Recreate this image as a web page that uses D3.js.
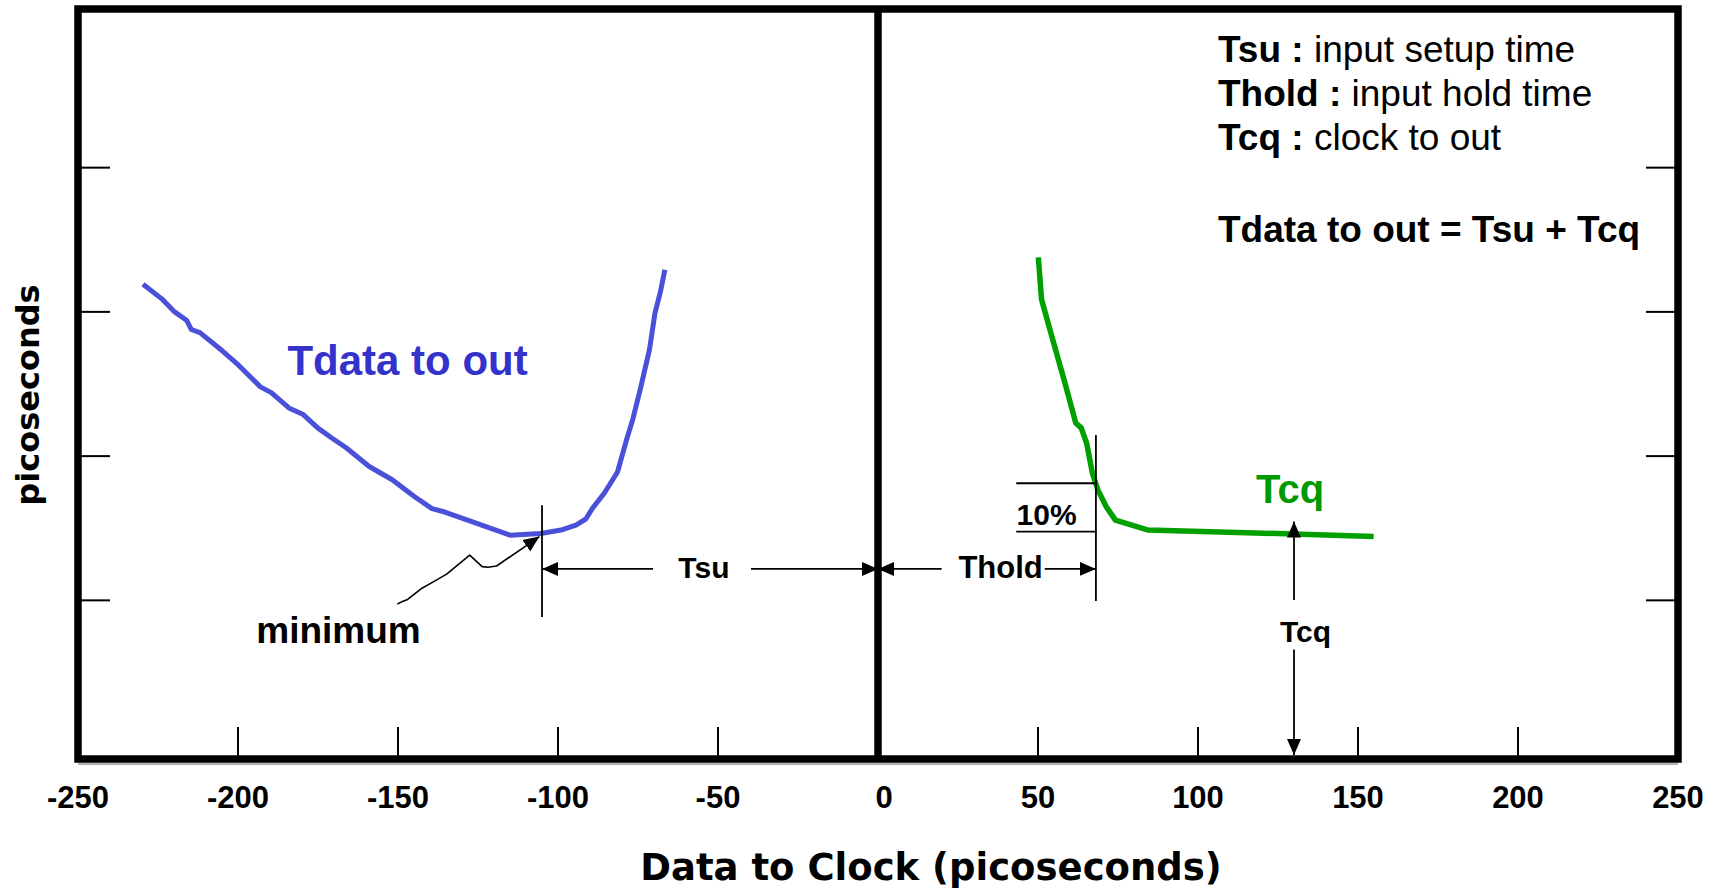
<!DOCTYPE html>
<html>
<head>
<meta charset="utf-8">
<script src="https://cdn.jsdelivr.net/npm/d3@7"></script>
<style>
  html, body { margin: 0; padding: 0; background: #ffffff; }
  svg { display: block; }
  text { font-family: "Liberation Sans", Arial, Helvetica, sans-serif; }
</style>
</head>
<body>
<svg id="chart" width="1726" height="889"></svg>
<script>
// ---------------- data ----------------
const xTicks = [-200, -150, -100, -50, 50, 100, 150, 200];
const xTickLabels = [-250, -200, -150, -100, -50, 0, 50, 100, 150, 200, 250];
const yTicks = [55, 105, 155, 205];

// Tdata to out curve (picoseconds, arbitrary units on y)
const tdataX = [-229.7, -223.9, -219.8, -216.0, -214.6, -211.9, -205.0, -199.9, -193.0, -189.6,
                -184.1, -179.6, -175.1, -170.7, -166.2, -159.0, -151.8, -144.9, -139.4, -135.6,
                -126.7, -115.0, -105.4, -98.6, -94.4, -91.3, -89.3, -85.5, -81.4, -78.6,
                -76.6, -74.2, -71.4, -69.7, -68.0, -66.6];
const tdataY = [164.6, 159.6, 155.0, 152.0, 148.9, 147.8, 141.6, 136.6, 129.0, 127.0,
                121.7, 119.4, 114.8, 111.3, 107.9, 101.4, 96.8, 91.0, 86.8, 85.7,
                82.2, 77.6, 78.2, 79.5, 81.1, 83.2, 86.8, 92.2, 99.5, 110.6,
                117.9, 128.6, 142.0, 154.6, 161.9, 169.6];

// Tcq curve
const tcqX = [50.1, 51.1, 54.0, 58.4, 61.8, 63.5, 65.2, 67.0, 68.7, 71.3, 74.2, 84.2, 104.1, 129.8, 154.9];
const tcqY = [173.9, 159.4, 147.8, 130.4, 116.5, 114.8, 109.5, 99.1, 93.3, 87.5, 82.8, 79.4, 78.8, 78.0, 77.1];

// annotation values
const minimumX = -105;             // Tsu reference (minimum point)
const minimumLineY = [49.2, 88];
const tholdX = 68.1;               // hold-time reference
const tholdLineY = [54.8, 112.3];
const arrowRowY = 65.9;            // level of the Tsu / Thold arrows
const tenPctY = [78.8, 95.6];
const tenPctX = [43.2, 68.3];
const tcqArrowX = 130;
const tcqUpY = [55.1, 82.3];
const tcqDownY = [38, 1.4];
const squiggleX = [-150.25, -148.8, -147.0, -142.5, -139.8, -134.8, -127.6, -123.7, -121.9, -119.2, -105.8];
const squiggleY = [53.7, 54.5, 55.3, 59.2, 60.9, 64.1, 70.7, 66.7, 66.5, 66.9, 77.1];

const legendBold = ["Tsu :", "Thold :", "Tcq :"];
const legendText = [" input setup time", " input hold time", " clock to out"];
const formulaText = "Tdata to out = Tsu + Tcq";

// ---------------- layout ----------------
const svg = d3.select("#chart");
const L = 78, R = 1678, T = 9, B = 759;
const x = d3.scaleLinear().domain([-250, 250]).range([L, R]);
const y = d3.scaleLinear().domain([0, 260]).range([B, T]);

const blue = "#4a50d8", blueText = "#3333cc";
const green = "#00a000", greenText = "#009a00";

const defs = svg.append("defs");
function marker(id) {
  defs.append("marker")
    .attr("id", id)
    .attr("markerUnits", "userSpaceOnUse")
    .attr("viewBox", "0 -8 16 16")
    .attr("refX", 16).attr("refY", 0)
    .attr("markerWidth", 16).attr("markerHeight", 16)
    .attr("orient", "auto")
    .append("path").attr("d", "M0,-7L16,0L0,7Z").attr("fill", "#000");
}
marker("arr");

// ticks along bottom
const tickLen = 32;
svg.append("g").selectAll("line").data(xTicks).join("line")
  .attr("x1", d => x(d)).attr("x2", d => x(d))
  .attr("y1", B).attr("y2", B - tickLen)
  .attr("stroke", "#000").attr("stroke-width", 2);

// ticks on left and right
svg.append("g").selectAll("line").data(yTicks).join("line")
  .attr("x1", L).attr("x2", L + tickLen)
  .attr("y1", d => y(d)).attr("y2", d => y(d))
  .attr("stroke", "#000").attr("stroke-width", 2);
svg.append("g").selectAll("line").data(yTicks).join("line")
  .attr("x1", R).attr("x2", R - tickLen)
  .attr("y1", d => y(d)).attr("y2", d => y(d))
  .attr("stroke", "#000").attr("stroke-width", 2);

// tick labels
svg.append("g").selectAll("text").data(xTickLabels).join("text")
  .attr("x", d => x(d) + (d === 0 ? 6 : 0))
  .attr("y", 808)
  .attr("text-anchor", "middle")
  .attr("font-size", 31).attr("font-weight", "bold")
  .text(d => d);

// frame
svg.append("line").attr("x1", L).attr("x2", R).attr("y1", B + 5).attr("y2", B + 5)
  .attr("stroke", "#999").attr("stroke-width", 1.5);
svg.append("rect").attr("x", L).attr("y", T).attr("width", R - L).attr("height", B - T)
  .attr("fill", "none").attr("stroke", "#000").attr("stroke-width", 7.5);
svg.append("line").attr("x1", x(0)).attr("x2", x(0)).attr("y1", T).attr("y2", B)
  .attr("stroke", "#000").attr("stroke-width", 7.5);

// curves
const line = d3.line().x(d => x(d[0])).y(d => y(d[1]));
svg.append("path").datum(d3.zip(tdataX, tdataY))
  .attr("d", line).attr("fill", "none").attr("stroke", blue)
  .attr("stroke-width", 5).attr("stroke-linejoin", "round");
svg.append("path").datum(d3.zip(tcqX, tcqY))
  .attr("d", line).attr("fill", "none").attr("stroke", green)
  .attr("stroke-width", 5.5).attr("stroke-linejoin", "round");

// annotation lines
const ann = svg.append("g").attr("stroke", "#000").attr("stroke-width", 1.8).attr("fill", "none");
function seg(x1, y1, x2, y2, arrowEnd) {
  const l = ann.append("line").attr("x1", x(x1)).attr("y1", y(y1)).attr("x2", x(x2)).attr("y2", y(y2));
  if (arrowEnd) l.attr("marker-end", "url(#arr)");
  return l;
}
// minimum reference line and Thold reference line
seg(minimumX, minimumLineY[0], minimumX, minimumLineY[1]);
seg(tholdX, tholdLineY[0], tholdX, tholdLineY[1]);
// Tsu arrows
seg(-70.3, arrowRowY, minimumX, arrowRowY, true);
seg(-39.7, arrowRowY, 0, arrowRowY, true);
// Thold arrows
seg(19.9, arrowRowY, 0, arrowRowY, true);
seg(52.1, arrowRowY, tholdX, arrowRowY, true);
// 10% lines
seg(tenPctX[0], tenPctY[0], tenPctX[1], tenPctY[0]);
seg(tenPctX[0], tenPctY[1], tenPctX[1], tenPctY[1]);
// Tcq arrows
seg(tcqArrowX, tcqUpY[0], tcqArrowX, tcqUpY[1], true);
seg(tcqArrowX, tcqDownY[0], tcqArrowX, tcqDownY[1], true);
// minimum squiggle
ann.append("path").datum(d3.zip(squiggleX, squiggleY))
  .attr("d", line).attr("stroke-width", 1.6).attr("stroke-linejoin", "round")
  .attr("marker-end", "url(#arr)");

// annotation texts
const labels = [
  {t: "Tdata to out", x: -147.0, y: 133.1, size: 42, fill: blueText, anchor: "middle"},
  {t: "Tcq", x: 128.75, y: 88.6, size: 40, fill: greenText, anchor: "middle"},
  {t: "minimum", x: -168.6, y: 40.1, size: 37, fill: "#000", anchor: "middle"},
  {t: "Tsu", x: -54.4, y: 62.6, size: 30, fill: "#000", anchor: "middle"},
  {t: "Thold", x: 38.3, y: 62.6, size: 31, fill: "#000", anchor: "middle"},
  {t: "10%", x: 43.3, y: 81.1, size: 30, fill: "#000", anchor: "start"},
  {t: "Tcq", x: 133.6, y: 40.7, size: 30, fill: "#000", anchor: "middle"}
];
svg.append("g").selectAll("text").data(labels).join("text")
  .attr("x", d => x(d.x)).attr("y", d => y(d.y))
  .attr("text-anchor", d => d.anchor)
  .attr("font-size", d => d.size).attr("font-weight", "bold")
  .attr("fill", d => d.fill)
  .text(d => d.t);

// legend (definitions)
const leg = svg.append("g");
legendBold.forEach((b, i) => {
  const t = leg.append("text").attr("x", 1218).attr("y", 62 + i * 43.8).attr("font-size", 37);
  t.append("tspan").attr("font-weight", "bold").text(b);
  t.append("tspan").text(legendText[i]);
});
leg.append("text").attr("x", 1218).attr("y", 242).attr("font-size", 37)
  .attr("font-weight", "bold").text(formulaText);

// axis titles
svg.append("text").attr("x", 931).attr("y", 880)
  .attr("text-anchor", "middle").attr("font-size", 37).attr("font-weight", "bold")
  .style("font-family", "'DejaVu Sans', Verdana, sans-serif")
  .text("Data to Clock (picoseconds)");
svg.append("text").attr("transform", "translate(39,395) rotate(-90)")
  .attr("text-anchor", "middle").attr("font-size", 32).attr("font-weight", "bold")
  .style("font-family", "'DejaVu Sans', Verdana, sans-serif")
  .text("picoseconds");
</script>
</body>
</html>
